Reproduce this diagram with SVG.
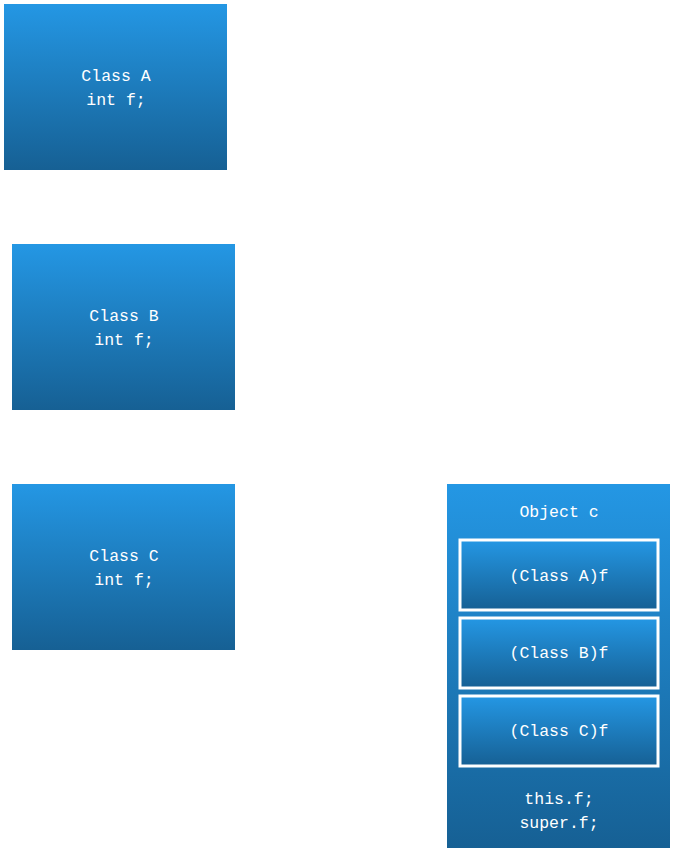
<svg xmlns="http://www.w3.org/2000/svg" width="674" height="853" viewBox="0 0 674 853">
<defs>
<linearGradient id="g" x1="0" y1="0" x2="0" y2="1">
<stop offset="0" stop-color="#2497E4"/>
<stop offset="1" stop-color="#166094"/>
</linearGradient>
</defs>
<style>
.box{fill:url(#g);}
.inner{fill:url(#g);stroke:#FFFFFF;stroke-width:3;}
.t{font-family:"Liberation Mono","DejaVu Sans Mono",monospace;font-size:16.5px;fill:#FFFFFF;text-anchor:middle;}
</style>
<rect width="674" height="853" fill="#FFFFFF"/>
<g id="classA">
<rect class="box" x="4" y="4" width="223" height="166"/>
<text class="t" x="116" y="81">Class A</text>
<text class="t" x="116" y="105">int f;</text>
</g>
<g id="classB">
<rect class="box" x="12" y="244" width="223" height="166"/>
<text class="t" x="124" y="321">Class B</text>
<text class="t" x="124" y="345">int f;</text>
</g>
<g id="classC">
<rect class="box" x="12" y="484" width="223" height="166"/>
<text class="t" x="124" y="561">Class C</text>
<text class="t" x="124" y="585">int f;</text>
</g>
<g id="objectC">
<rect class="box" x="447" y="484" width="223" height="364"/>
<text class="t" x="559" y="517">Object c</text>
<text class="t" x="559" y="804">this.f;</text>
<text class="t" x="559" y="828">super.f;</text>
</g>
<g id="fieldA">
<rect class="inner" x="460" y="540" width="198" height="70"/>
<text class="t" x="559" y="581">(Class A)f</text>
</g>
<g id="fieldB">
<rect class="inner" x="460" y="618" width="198" height="70"/>
<text class="t" x="559" y="658">(Class B)f</text>
</g>
<g id="fieldC">
<rect class="inner" x="460" y="696" width="198" height="70"/>
<text class="t" x="559" y="736">(Class C)f</text>
</g>
<g id="connectors"></g>
</svg>
